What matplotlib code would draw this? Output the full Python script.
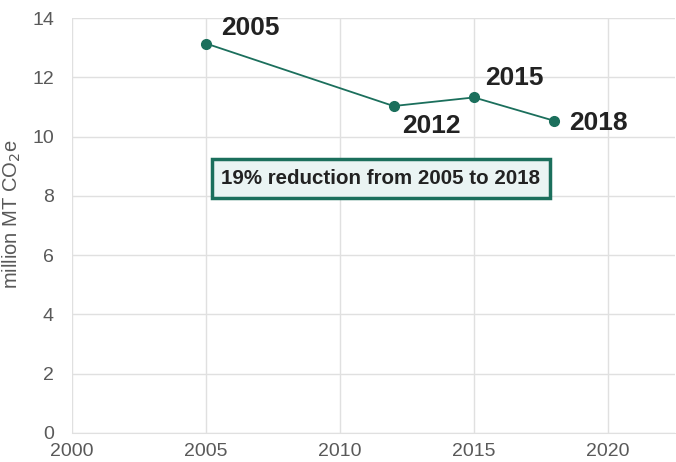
import matplotlib
matplotlib.use("Agg")
import matplotlib.pyplot as plt

# emissions, million MT CO2e
years = [2005, 2012, 2015, 2018]
emissions = [13.14, 11.03, 11.32, 10.53]
labels = ["2005", "2012", "2015", "2018"]
note = "19% reduction from 2005 to 2018"

GREEN = "#1b6f5c"
GREY = "#595959"

plt.rcParams["font.family"] = ["Liberation Sans", "DejaVu Sans"]

fig = plt.figure(figsize=(6.76, 4.62), dpi=100)
ax = fig.add_axes([0.1065, 0.063, 0.892, 0.898])

ax.plot(years, emissions, color=GREEN, lw=1.3, marker="o", ms=7, zorder=3)

# point labels, offsets in points from each marker (text baseline)
offsets = [(11, 6), (6.5, -19.5), (8, 8.6), (10.8, -6.7)]
for x, y, t, off in zip(years, emissions, labels, offsets):
    ax.annotate(t, (x, y), xytext=off, textcoords="offset points",
                ha="left", va="baseline", fontsize=19, fontweight="bold",
                color="#222222")

ax.text(2011.53, 8.58, note, ha="center", va="center", fontsize=14.8,
        fontweight="bold", color="#222222",
        bbox=dict(boxstyle="square,pad=0.48", fc="#eaf4f3", ec=GREEN, lw=2.5))

ax.set_xlim(2000, 2022.5)
ax.set_ylim(0, 14)
ax.set_xticks([2000, 2005, 2010, 2015, 2020])
ax.set_yticks(range(0, 15, 2))
ax.grid(True, color="#e0e0e0", lw=1)
ax.set_axisbelow(True)
for s in ax.spines.values():
    s.set_visible(False)
ax.spines["bottom"].set_visible(True)
ax.spines["bottom"].set_color("#e0e0e0")
ax.tick_params(length=0, labelsize=14, labelcolor=GREY)
ax.tick_params(axis="x", pad=7)
ax.tick_params(axis="y", pad=13)
ax.set_ylabel("million MT CO$_2$e", fontsize=14.5, color=GREY)
ax.yaxis.set_label_coords(-0.081, 0.528)

fig.savefig("out.png", dpi=100)
